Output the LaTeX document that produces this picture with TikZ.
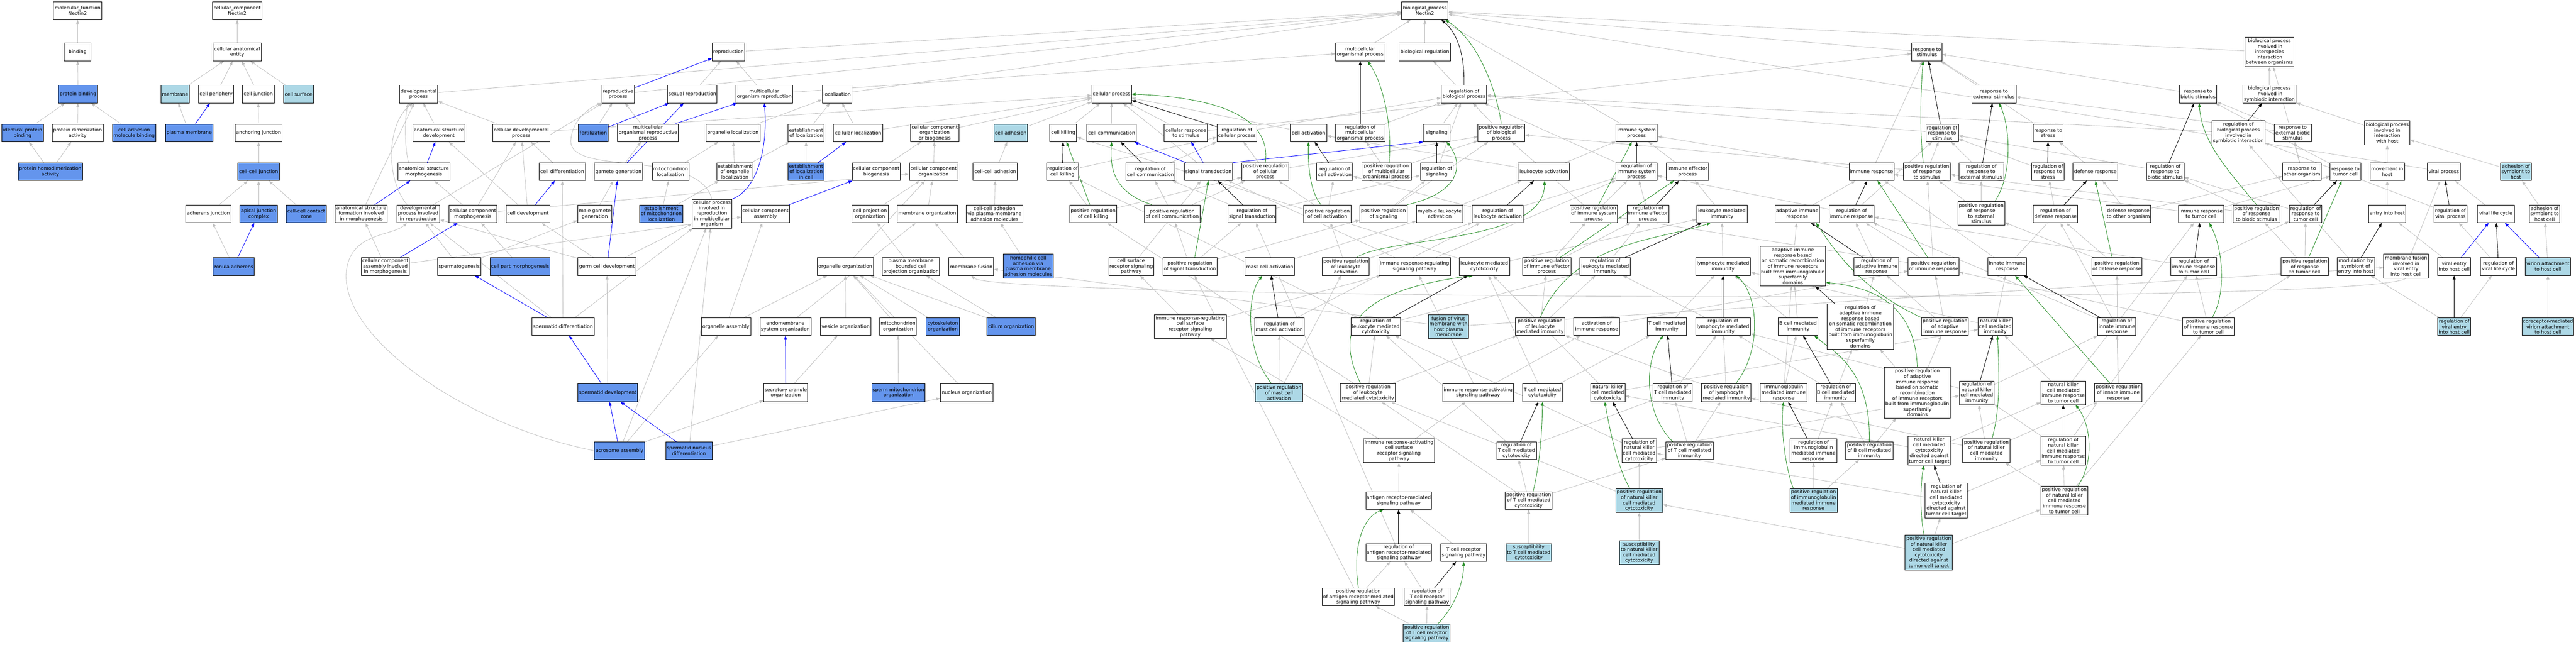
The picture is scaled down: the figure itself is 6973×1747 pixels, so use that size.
\documentclass[tikz,border=0pt]{standalone}
\usepackage{fontspec}
\setmainfont{DejaVu Sans}
\usetikzlibrary{arrows.meta}
\definecolor{cB}{HTML}{6495ED}
\definecolor{cL}{HTML}{ADD8E6}
\definecolor{gry}{HTML}{C0C0C0}
\definecolor{grn}{HTML}{228B22}
\newcommand\nf{\fontsize{13pt}{14.8pt}\selectfont}
\newcommand\gonode[7]{\node[box,fill=#6,minimum width=#4pt,minimum height=#5pt] (#1) at (#2,#3) {#7};}
\pgfdeclarelayer{bg}
\pgfsetlayers{bg,main}
\tikzset{
 box/.style={draw=black,line width=1.1pt,align=center,inner xsep=2pt,inner ysep=1pt,font=\nf},
 tip/.style={-{Triangle[length=11pt,width=8pt]}},
 ge/.style={draw=gry,line width=1.2pt,tip},
 be/.style={draw=blue,line width=1.2pt,tip},
 ke/.style={draw=black,line width=1.2pt,tip},
 gre/.style={draw=grn,line width=1.2pt,tip}
}
\begin{document}
\begin{tikzpicture}[x=1pt,y=-1pt]
\useasboundingbox (0,0) rectangle (6973,1747);
% ---- molecular function / cellular component
\gonode{mf}{210}{29}{131}{48}{white}{molecular\_function\\Nectin2}
\gonode{bind}{210}{141}{72}{48}{white}{binding}
\gonode{pb}{211}{255}{105}{48}{cB}{protein binding}
\gonode{ipb}{61}{360}{112}{48}{cB}{identical protein\\binding}
\gonode{pda}{210}{360}{138}{48}{white}{protein dimerization\\activity}
\gonode{camb}{363}{360}{118}{48}{cB}{cell adhesion\\molecule binding}
\gonode{pha}{136}{465}{174}{48}{cB}{protein homodimerization\\activity}
\gonode{cc}{642}{29}{134}{48}{white}{cellular\_component\\Nectin2}
\gonode{cae}{642}{141}{131}{48}{white}{cellular anatomical\\entity}
\gonode{mem}{474}{255}{78}{48}{cL}{membrane}
\gonode{cper}{585}{255}{94}{48}{white}{cell periphery}
\gonode{cj}{699}{255}{86}{48}{white}{cell junction}
\gonode{csurf}{808}{255}{80}{48}{cL}{cell surface}
\gonode{pm}{512}{360}{128}{48}{cB}{plasma membrane}
\gonode{aj}{700}{360}{126}{48}{white}{anchoring junction}
\gonode{ccj}{700}{465}{112}{48}{cB}{cell-cell junction}
\gonode{adj}{564}{579}{122}{48}{white}{adherens junction}
\gonode{ajc}{700}{579}{102}{48}{cB}{apical junction\\complex}
\gonode{cccz}{829}{579}{110}{48}{cB}{cell-cell contact\\zone}
\gonode{za}{632}{722}{112}{48}{cB}{zonula adherens}
% ---- development / reproduction
\gonode{dp}{1133}{255}{104}{48}{white}{developmental\\process}
\gonode{asd}{1188}{360}{142}{48}{white}{anatomical structure\\development}
\gonode{asm}{1147}{465}{141}{48}{white}{anatomical structure\\morphogenesis}
\gonode{asf}{978}{579}{141}{48}{white}{anatomical structure\\formation involved\\in morphogenesis}
\gonode{dpir}{1132}{579}{116}{48}{white}{developmental\\process involved\\in reproduction}
\gonode{ccaim}{1043}{722}{131}{48}{white}{cellular component\\assembly involved\\in morphogenesis}
\gonode{sperm}{1243}{722}{118}{48}{white}{spermatogenesis}
\gonode{repro}{1972}{141}{88}{48}{white}{reproduction}
\gonode{rp}{1673}{255}{88}{48}{white}{reproductive\\process}
\gonode{sr}{1874}{255}{134}{48}{white}{sexual reproduction}
\gonode{mor}{2069}{255}{153}{48}{white}{multicellular\\organism reproduction}
\gonode{loc}{2266}{255}{80}{48}{white}{localization}
\gonode{cdp}{1411}{360}{155}{48}{white}{cellular developmental\\process}
\gonode{fert}{1606}{360}{81}{48}{cB}{fertilization}
\gonode{morp}{1754}{360}{165}{48}{white}{multicellular\\organismal reproductive\\process}
\gonode{ol}{1984}{360}{147}{48}{white}{organelle localization}
\gonode{eol}{2182}{360}{98}{48}{white}{establishment\\of localization}
\gonode{cl}{2323}{360}{134}{48}{white}{cellular localization}
\gonode{cdiff}{1522}{465}{125}{48}{white}{cell differentiation}
\gonode{gg}{1674}{465}{130}{48}{white}{gamete generation}
\gonode{ml}{1815}{465}{99}{48}{white}{mitochondrion\\localization}
\gonode{eorl}{1989}{465}{98}{48}{white}{establishment\\of organelle\\localization}
\gonode{elc}{2182}{465}{98}{48}{cB}{establishment\\of localization\\in cell}
\gonode{ccb}{2372}{465}{131}{48}{white}{cellular component\\biogenesis}
\gonode{ccm}{1280}{579}{129}{48}{white}{cellular component\\morphogenesis}
\gonode{cdev}{1429}{579}{118}{48}{white}{cell development}
\gonode{mgg}{1610}{579}{93}{48}{white}{male gamete\\generation}
\gonode{eml}{1790}{579}{117}{48}{cB}{establishment\\of mitochondrion\\localization}
\gonode{cpir}{1927}{579}{107}{78}{white}{cellular process\\involved in\\reproduction\\in multicellular\\organism}
\gonode{cca}{2072}{579}{130}{48}{white}{cellular component\\assembly}
\gonode{cpo}{2355}{579}{99}{48}{white}{cell projection\\organization}
\gonode{cpm}{1408}{722}{162}{48}{cB}{cell part morphogenesis}
\gonode{gcd}{1643}{722}{157}{48}{white}{germ cell development}
\gonode{oo}{2288}{722}{152}{48}{white}{organelle organization}
\gonode{sdiff}{1524}{885}{168}{48}{white}{spermatid differentiation}
\gonode{oa}{1965}{885}{134}{48}{white}{organelle assembly}
\gonode{eso}{2126}{885}{138}{48}{white}{endomembrane\\system organization}
\gonode{vo}{2289}{885}{136}{48}{white}{vesicle organization}
\gonode{sdev}{1645}{1064}{162}{48}{cB}{spermatid development}
\gonode{sgo}{2127}{1064}{119}{48}{white}{secretory granule\\organization}
\gonode{aa}{1677}{1221}{137}{48}{cB}{acrosome assembly}
\gonode{snd}{1865}{1221}{126}{48}{cB}{spermatid nucleus\\differentiation}
% ---- cellular process block
\gonode{cp}{3009}{255}{107}{48}{white}{cellular process}
\gonode{ccob}{2530}{360}{131}{48}{white}{cellular component\\organization\\or biogenesis}
\gonode{cadh}{2736}{360}{91}{48}{cL}{cell adhesion}
\gonode{ck}{2878}{360}{73}{48}{white}{cell killing}
\gonode{ccom}{3009}{360}{134}{48}{white}{cell communication}
\gonode{crs}{3210}{360}{117}{48}{white}{cellular response\\to stimulus}
\gonode{rcp}{3348}{360}{108}{48}{white}{regulation of\\cellular process}
\gonode{cco}{2527}{465}{131}{48}{white}{cellular component\\organization}
\gonode{ccadh}{2694}{465}{120}{48}{white}{cell-cell adhesion}
\gonode{rck}{2876}{465}{87}{48}{white}{regulation of\\cell killing}
\gonode{rcc}{3114}{465}{132}{48}{white}{regulation of\\cell communication}
\gonode{st}{3271}{465}{130}{48}{white}{signal transduction}
\gonode{prcp}{3425}{465}{128}{48}{white}{positive regulation\\of cellular\\process}
\gonode{mo}{2510}{579}{163}{48}{white}{membrane organization}
\gonode{ccavpm}{2692}{579}{154}{48}{white}{cell-cell adhesion\\via plasma-membrane\\adhesion molecules}
\gonode{prck}{2959}{579}{127}{48}{white}{positive regulation\\of cell killing}
\gonode{prcc}{3173}{579}{150}{48}{white}{positive regulation\\of cell communication}
\gonode{rst}{3389}{579}{130}{48}{white}{regulation of\\signal transduction}
\gonode{pmbcpo}{2466}{722}{155}{48}{white}{plasma membrane\\bounded cell\\projection organization}
\gonode{mfus}{2629}{722}{121}{48}{white}{membrane fusion}
\gonode{hca}{2783}{721}{135}{65}{cB}{homophilic cell\\adhesion via\\plasma membrane\\adhesion molecules}
\gonode{csrsp}{3062}{722}{122}{48}{white}{cell surface\\receptor signaling\\pathway}
\gonode{prst}{3221}{722}{146}{48}{white}{positive regulation\\of signal transduction}
\gonode{mca}{3437}{722}{134}{48}{white}{mast cell activation}
\gonode{mito}{2431}{885}{99}{48}{white}{mitochondrion\\organization}
\gonode{cyto}{2552}{885}{90}{48}{cB}{cytoskeleton\\organization}
\gonode{cilium}{2737}{885}{131}{48}{cB}{cilium organization}
\gonode{irrcs}{3222}{885}{195}{64}{white}{immune response-regulating\\cell surface\\receptor signaling\\pathway}
\gonode{rmca}{3463}{885}{134}{48}{white}{regulation of\\mast cell activation}
\gonode{smo}{2432}{1064}{144}{48}{cB}{sperm mitochondrion\\organization}
\gonode{nuc}{2617}{1064}{142}{48}{white}{nucleus organization}
\gonode{prmca}{3462}{1064}{129}{48}{cL}{positive regulation\\of mast cell\\activation}
% ---- biological process / immune
\gonode{bp}{3857}{29}{125}{48}{white}{biological\_process\\Nectin2}
\gonode{mop}{3682}{141}{133}{48}{white}{multicellular\\organismal process}
\gonode{breg}{3857}{141}{139}{48}{white}{biological regulation}
\gonode{rbp}{3963}{255}{123}{48}{white}{regulation of\\biological process}
\gonode{ca}{3542}{360}{99}{48}{white}{cell activation}
\gonode{rmop}{3682}{360}{133}{48}{white}{regulation of\\multicellular\\organismal process}
\gonode{sig}{3889}{360}{72}{48}{white}{signaling}
\gonode{prbp}{4064}{360}{127}{48}{white}{positive regulation\\of biological\\process}
\gonode{isp}{4430}{360}{112}{48}{white}{immune system\\process}
\gonode{rca}{3613}{465}{98}{48}{white}{regulation of\\cell activation}
\gonode{prmop}{3753}{465}{134}{48}{white}{positive regulation\\of multicellular\\organismal process}
\gonode{rsig}{3889}{465}{88}{48}{white}{regulation of\\signaling}
\gonode{la}{4179}{465}{139}{48}{white}{leukocyte activation}
\gonode{risp}{4430}{465}{112}{48}{white}{regulation of\\immune system\\process}
\gonode{iep}{4568}{465}{114}{48}{white}{immune effector\\process}
\gonode{prca}{3593}{579}{127}{48}{white}{positive regulation\\of cell activation}
\gonode{prsig}{3745}{579}{128}{48}{white}{positive regulation\\of signaling}
\gonode{mla}{3897}{579}{126}{48}{white}{myeloid leukocyte\\activation}
\gonode{rla}{4054}{579}{137}{48}{white}{regulation of\\leukocyte activation}
\gonode{prisp}{4314}{579}{128}{48}{white}{positive regulation\\of immune system\\process}
\gonode{riep}{4461}{579}{114}{48}{white}{regulation of\\immune effector\\process}
\gonode{lmi}{4661}{579}{136}{48}{white}{leukocyte mediated\\immunity}
\gonode{prla}{3643}{722}{127}{48}{white}{positive regulation\\of leukocyte\\activation}
\gonode{irrsp}{3829}{722}{194}{48}{white}{immune response-regulating\\signaling pathway}
\gonode{lmc}{4018}{722}{136}{48}{white}{leukocyte mediated\\cytotoxicity}
\gonode{priep}{4187}{722}{131}{48}{white}{positive regulation\\of immune effector\\process}
\gonode{rlmi}{4345}{722}{136}{48}{white}{regulation of\\leukocyte mediated\\immunity}
\gonode{lymi}{4664}{722}{149}{48}{white}{lymphocyte mediated\\immunity}
\gonode{rlmc}{3724}{885}{135}{48}{white}{regulation of\\leukocyte mediated\\cytotoxicity}
\gonode{fvm}{3921}{885}{109}{64}{cL}{fusion of virus\\membrane with\\host plasma\\membrane}
\gonode{prlmi}{4169}{885}{134}{48}{white}{positive regulation\\of leukocyte\\mediated immunity}
\gonode{air}{4322}{885}{124}{48}{white}{activation of\\immune response}
\gonode{tcmi}{4512}{885}{106}{48}{white}{T cell mediated\\immunity}
\gonode{rlymi}{4664}{885}{149}{48}{white}{regulation of\\lymphocyte mediated\\immunity}
\gonode{prlmc}{3703}{1064}{149}{48}{white}{positive regulation\\of leukocyte\\mediated cytotoxicity}
\gonode{irasp}{4001}{1064}{192}{48}{white}{immune response-activating\\signaling pathway}
\gonode{tcmc}{4175}{1064}{107}{48}{white}{T cell mediated\\cytotoxicity}
\gonode{nkcmc}{4352}{1064}{94}{48}{white}{natural killer\\cell mediated\\cytotoxicity}
\gonode{rtcmi}{4528}{1064}{106}{48}{white}{regulation of\\T cell mediated\\immunity}
\gonode{prlymi}{4673}{1064}{134}{48}{white}{positive regulation\\of lymphocyte\\mediated immunity}
\gonode{iracs}{3787}{1221}{193}{64}{white}{immune response-activating\\cell surface\\receptor signaling\\pathway}
\gonode{rtcmc}{4105}{1221}{107}{48}{white}{regulation of\\T cell mediated\\cytotoxicity}
\gonode{rnkcmc}{4437}{1221}{93}{64}{white}{regulation of\\natural killer\\cell mediated\\cytotoxicity}
\gonode{prtcmi}{4573}{1221}{128}{48}{white}{positive regulation\\of T cell mediated\\immunity}
\gonode{arsp}{3786}{1356}{178}{48}{white}{antigen receptor-mediated\\signaling pathway}
\gonode{prtcmc}{4138}{1356}{127}{48}{white}{positive regulation\\of T cell mediated\\cytotoxicity}
\gonode{prnkcmc}{4437}{1356}{127}{63}{cL}{positive regulation\\of natural killer\\cell mediated\\cytotoxicity}
\gonode{rarsp}{3786}{1497}{178}{48}{white}{regulation of\\antigen receptor-mediated\\signaling pathway}
\gonode{tcrsp}{3962}{1497}{125}{48}{white}{T cell receptor\\signaling pathway}
\gonode{stcmc}{4138}{1497}{123}{48}{cL}{susceptibility\\to T cell mediated\\cytotoxicity}
\gonode{snkcmc}{4437}{1497}{107}{64}{cL}{susceptibility\\to natural killer\\cell mediated\\cytotoxicity}
\gonode{prarsp}{3677}{1617}{195}{48}{white}{positive regulation\\of antigen receptor-mediated\\signaling pathway}
\gonode{rtcrsp}{3863}{1617}{125}{48}{white}{regulation of\\T cell receptor\\signaling pathway}
\gonode{prtcrsp}{3862}{1715}{127}{48}{cL}{positive regulation\\of T cell receptor\\signaling pathway}
% ---- response to stimulus block
\gonode{rs}{5216}{141}{82}{48}{white}{response to\\stimulus}
\gonode{res}{5397}{255}{120}{48}{white}{response to\\external stimulus}
\gonode{rrs}{5257}{360}{88}{48}{white}{regulation of\\response to\\stimulus}
\gonode{rstress}{5544}{360}{82}{48}{white}{response to\\stress}
\gonode{ir}{5066}{465}{121}{48}{white}{immune response}
\gonode{prrs}{5216}{465}{128}{48}{white}{positive regulation\\of response\\to stimulus}
\gonode{rres}{5363}{465}{121}{48}{white}{regulation of\\response to\\external stimulus}
\gonode{rrstress}{5543}{465}{88}{48}{white}{regulation of\\response to\\stress}
\gonode{dr}{5672}{465}{121}{48}{white}{defense response}
\gonode{aird}{4865}{579}{120}{48}{white}{adaptive immune\\response}
\gonode{rir}{5012}{579}{122}{48}{white}{regulation of\\immune response}
\gonode{prres}{5363}{578}{127}{64}{white}{positive regulation\\of response\\to external\\stimulus}
\gonode{rdr}{5564}{579}{120}{48}{white}{regulation of\\defense response}
\gonode{drto}{5761}{579}{122}{48}{white}{defense response\\to other organism}
\gonode{airb}{4853}{721}{178}{108}{white}{adaptive immune\\response based\\on somatic recombination\\of immune receptors\\built from immunoglobulin\\superfamily\\domains}
\gonode{rair}{5079}{722}{121}{48}{white}{regulation of\\adaptive immune\\response}
\gonode{prir}{5234}{722}{138}{48}{white}{positive regulation\\of immune response}
\gonode{iir}{5433}{722}{104}{48}{white}{innate immune\\response}
\gonode{prdr}{5730}{722}{136}{48}{white}{positive regulation\\of defense response}
\gonode{bcmi}{4867}{885}{107}{48}{white}{B cell mediated\\immunity}
\gonode{rairb}{5036}{885}{180}{122}{white}{regulation of\\adaptive immune\\response based\\on somatic recombination\\of immune receptors\\built from immunoglobulin\\superfamily\\domains}
\gonode{prair}{5265}{885}{127}{48}{white}{positive regulation\\of adaptive\\immune response}
\gonode{nkcmi}{5401}{885}{92}{48}{white}{natural killer\\cell mediated\\immunity}
\gonode{riir}{5730}{885}{103}{48}{white}{regulation of\\innate immune\\response}
\gonode{igmir}{4828}{1064}{126}{48}{white}{immunoglobulin\\mediated immune\\response}
\gonode{rbcmi}{4969}{1064}{106}{48}{white}{regulation of\\B cell mediated\\immunity}
\gonode{prairb}{5190}{1064}{179}{137}{white}{positive regulation\\of adaptive\\immune response\\based on somatic\\recombination\\of immune receptors\\built from immunoglobulin\\superfamily\\domains}
\gonode{rnkcmi}{5351}{1064}{93}{64}{white}{regulation of\\natural killer\\cell mediated\\immunity}
\gonode{nkirtc}{5585}{1064}{121}{64}{white}{natural killer\\cell mediated\\immune response\\to tumor cell}
\gonode{priir}{5734}{1064}{128}{48}{white}{positive regulation\\of innate immune\\response}
\gonode{rigmir}{4909}{1221}{126}{64}{white}{regulation of\\immunoglobulin\\mediated immune\\response}
\gonode{prbcmi}{5060}{1221}{129}{48}{white}{positive regulation\\of B cell mediated\\immunity}
\gonode{nkctt}{5222}{1221}{114}{78}{white}{natural killer\\cell mediated\\cytotoxicity\\directed against\\tumor cell target}
\gonode{prnkcmi}{5377}{1221}{128}{64}{white}{positive regulation\\of natural killer\\cell mediated\\immunity}
\gonode{rnkirtc}{5585}{1221}{121}{78}{white}{regulation of\\natural killer\\cell mediated\\immune response\\to tumor cell}
\gonode{prigmir}{4909}{1356}{128}{64}{cL}{positive regulation\\of immunoglobulin\\mediated immune\\response}
\gonode{rnkctt}{5268}{1356}{113}{94}{white}{regulation of\\natural killer\\cell mediated\\cytotoxicity\\directed against\\tumor cell target}
\gonode{prnkirtc}{5588}{1356}{128}{79}{white}{positive regulation\\of natural killer\\cell mediated\\immune response\\to tumor cell}
\gonode{prnkctt}{5221}{1497}{128}{95}{cL}{positive regulation\\of natural killer\\cell mediated\\cytotoxicity\\directed against\\tumor cell target}
% ---- interspecies / viral block
\gonode{bpiiibo}{6143}{141}{133}{79}{white}{biological process\\involved in\\interspecies\\interaction\\between organisms}
\gonode{rbs}{5950}{255}{101}{48}{white}{response to\\biotic stimulus}
\gonode{bpisi}{6143}{255}{144}{48}{white}{biological process\\involved in\\symbiotic interaction}
\gonode{rbpisi}{6059}{360}{143}{65}{white}{regulation of\\biological process\\involved in\\symbiotic interaction}
\gonode{rebs}{6206}{360}{100}{48}{white}{response to\\external biotic\\stimulus}
\gonode{bpiiwh}{6462}{360}{123}{65}{white}{biological process\\involved in\\interaction\\with host}
\gonode{rrbs}{5861}{465}{102}{48}{white}{regulation of\\response to\\biotic stimulus}
\gonode{rto}{6231}{465}{104}{48}{white}{response to\\other organism}
\gonode{rtc}{6349}{465}{83}{48}{white}{response to\\tumor cell}
\gonode{mih}{6462}{465}{93}{48}{white}{movement in\\host}
\gonode{vp}{6615}{465}{89}{48}{white}{viral process}
\gonode{asth}{6810}{465}{83}{48}{cL}{adhesion of\\symbiont to\\host}
\gonode{irtc}{5958}{579}{122}{48}{white}{immune response\\to tumor cell}
\gonode{prrbs}{6108}{579}{128}{48}{white}{positive regulation\\of response\\to biotic stimulus}
\gonode{rrtc}{6241}{579}{88}{48}{white}{regulation of\\response to\\tumor cell}
\gonode{eih}{6462}{579}{101}{48}{white}{entry into host}
\gonode{rvp}{6633}{579}{89}{48}{white}{regulation of\\viral process}
\gonode{vlc}{6756}{579}{100}{48}{white}{viral life cycle}
\gonode{asthc}{6888}{579}{83}{48}{white}{adhesion of\\symbiont to\\host cell}
\gonode{rirtc}{5938}{722}{124}{48}{white}{regulation of\\immune response\\to tumor cell}
\gonode{prrtc}{6239}{722}{128}{48}{white}{positive regulation\\of response\\to tumor cell}
\gonode{mbse}{6377}{722}{101}{48}{white}{modulation by\\symbiont of\\entry into host}
\gonode{mfve}{6513}{721}{121}{65}{white}{membrane fusion\\involved in\\viral entry\\into host cell}
\gonode{veh}{6643}{722}{89}{48}{white}{viral entry\\into host cell}
\gonode{rvlc}{6763}{722}{98}{48}{white}{regulation of\\viral life cycle}
\gonode{vahc}{6897}{722}{122}{48}{cL}{virion attachment\\to host cell}
\gonode{prirtc}{5978}{885}{140}{48}{white}{positive regulation\\of immune response\\to tumor cell}
\gonode{rveh}{6643}{885}{89}{48}{cL}{regulation of\\viral entry\\into host cell}
\gonode{cmva}{6897}{885}{140}{48}{cL}{coreceptor-mediated\\virion attachment\\to host cell}

\begin{pgfonlayer}{bg}
% grey edges
\foreach \a/\b in {bind/mf,pb/bind,ipb/pb,pda/pb,camb/pb,pha/ipb,pha/pda,
 cae/cc,mem/cae,cper/cae,cj/cae,csurf/cae,pm/mem,aj/cj,ccj/aj,adj/ccj,ajc/ccj,cccz/ccj,za/adj,
 dp/bp,asd/dp,asf/dp,ccaim/asf,ccaim/cca,sperm/dpir,sperm/mgg,dpir/rp,
 repro/bp,rp/bp,sr/repro,mor/repro,mor/mop,loc/bp,cdp/dp,cdp/cp,fert/rp,morp/rp,ol/loc,eol/loc,cl/loc,cl/cp,cdiff/cdp,gg/morp,ml/ol,eorl/ol,eorl/eol,elc/eol,ccb/ccob,ccm/asm,ccm/cdp,ccm/cco,cdev/asd,cdev/cdp,mgg/gg,eml/ml,eml/eorl,cpm/ccm,gcd/cdev,gcd/cpir,gcd/dpir,oo/cco,sdiff/cdiff,sdiff/cpir,sdiff/dpir,oa/cca,oa/oo,eso/mo,vo/oo,sdev/gcd,sgo/vo,aa/sgo,aa/oa,aa/cpir,snd/cpir,snd/nuc,
 cpo/cco,pmbcpo/cpo,mo/cco,mfus/mo,ccadh/cadh,ccavpm/ccadh,hca/ccavpm,mito/oo,cyto/oo,cilium/oo,cilium/pmbcpo,smo/mito,nuc/oo,cco/ccob,ccob/cp,cadh/cp,ck/cp,ccom/cp,crs/cp,crs/rs,rcp/rbp,prcp/rcp,prcp/prbp,st/cp,rck/rcp,prck/rck,prck/prcp,rcc/rcp,prcc/rcc,prcc/prcp,rst/rcc,rst/rsig,prst/rst,prst/prcc,prst/prsig,csrsp/st,irrcs/csrsp,irrcs/irrsp,rmca/rla,prmca/rmca,prmca/prla,mca/mla,
 mop/bp,breg/bp,rbp/breg,prbp/rbp,ca/cp,rmop/rbp,sig/rbp,rsig/rbp,isp/bp,risp/rbp,prmop/rmop,prmop/prbp,la/ca,la/isp,iep/isp,prca/rca,prca/prcp,prsig/rsig,prsig/prbp,mla/la,rla/rca,rla/risp,prisp/risp,prisp/prbp,riep/risp,lmi/iep,prla/rla,prla/prca,irrsp/st,irrsp/risp,lmc/ck,lmc/lmi,priep/riep,priep/prisp,rlmi/riep,lymi/lmi,rlmc/rck,rlmc/rlmi,fvm/mfus,fvm/mfve,prlmi/rlmi,prlmi/priep,air/prir,tcmi/lymi,rlymi/rlmi,prlmc/rlmc,prlmc/prlmi,prlmc/prck,irasp/air,irasp/irrsp,tcmc/lmc,tcmc/tcmi,nkcmc/lmc,nkcmc/nkcmi,rtcmi/rlymi,prlymi/rlymi,prlymi/prlmi,iracs/irasp,iracs/irrcs,rtcmc/rtcmi,rtcmc/rlmc,rnkcmc/rlmc,rnkcmc/rnkcmi,prtcmi/rtcmi,prtcmi/prlymi,arsp/iracs,prtcmc/rtcmc,prtcmc/prtcmi,prtcmc/prlmc,prnkcmc/rnkcmc,prnkcmc/prlmc,rarsp/rst,tcrsp/arsp,stcmc/prtcmc,snkcmc/prnkcmc,prarsp/rarsp,prarsp/prst,rtcrsp/rarsp,prtcrsp/rtcrsp,prtcrsp/prarsp,
 rs/bp,res/rs,rrs/rbp,rstress/rs,ir/rs,ir/isp,prrs/rrs,prrs/prbp,rres/rrs,rrstress/rrs,dr/rstress,aird/ir,rir/rrs,rir/risp,prres/rres,prres/prrs,drto/dr,drto/rto,airb/aird,rair/rir,prir/rir,prir/prrs,prir/prisp,iir/ir,iir/dr,prdr/rdr,prdr/prres,rdr/rrstress,
 bcmi/lymi,bcmi/airb,rairb/rair,prair/rair,prair/prir,nkcmi/lymi,nkcmi/iir,riir/rir,riir/rdr,igmir/bcmi,igmir/airb,rbcmi/rairb,rbcmi/rlymi,prairb/rairb,prairb/prair,rnkcmi/rlymi,rnkcmi/riir,nkirtc/nkcmi,nkirtc/irtc,priir/riir,priir/prdr,rigmir/rbcmi,prbcmi/rbcmi,prbcmi/prairb,nkctt/nkcmc,nkctt/nkirtc,prnkcmi/rnkcmi,prnkcmi/prlymi,prnkcmi/priir,rnkirtc/rnkcmi,rnkirtc/rirtc,prigmir/rigmir,prigmir/prbcmi,rnkctt/rnkcmc,rnkctt/rnkirtc,prnkirtc/rnkirtc,prnkirtc/prnkcmi,prnkirtc/prirtc,prnkctt/rnkctt,prnkctt/prnkirtc,prnkctt/prnkcmc,
 bpiiibo/bp,rbs/rs,bpisi/bpiiibo,rbpisi/rbp,rebs/rbs,rebs/res,bpiiwh/bpisi,rrbs/rrs,rto/rebs,rto/bpiiibo,rtc/rbs,mih/bpiiwh,vp/bp,asth/bpiiwh,irtc/rtc,irtc/ir,prrbs/rrbs,prrbs/prrs,rrtc/rrbs,eih/mih,rvp/rbpisi,vlc/vp,asthc/asth,rirtc/rrtc,rirtc/rir,prrtc/rrtc,prrtc/prrbs,mbse/rbpisi,mfve/vp,veh/eih,rvlc/rvp,vahc/asthc,prirtc/rirtc,prirtc/prrtc,prirtc/prir,rveh/rvlc,rveh/mbse,cmva/vahc}
 {\draw[ge] (\a) -- (\b);}
\draw[ge] ([xshift=30]asm.north west) .. controls (1095,400) and (1095,320) .. ([xshift=25]dp.south west);
\draw[ge] ([xshift=-30]dpir.north) .. controls (1040,480) and (1050,330) .. ([xshift=-15]dp.south);
\draw[ge] (aa.west) .. controls (1250,1150) and (900,900) .. (940,720) .. controls (960,630) and (1060,640) .. ([xshift=-30]dpir.south);
\draw[ge] (cpir.north) .. controls (1890,400) and (1540,480) .. (1545,380) .. controls (1550,320) and (1600,290) .. (rp.south west);
\draw[ge] (mfve.south) .. controls (6400,830) and (2700,810) .. (mfus.south);
% blue edges
\foreach \a/\b in {pm/cper,za/ajc,asm/asd,asf/asm,ccaim/ccm,rp/repro,fert/sr,morp/mor,gg/sr,elc/cl,cca/ccb,cdev/cdiff,gcd/gg,sdiff/sperm,sdev/sdiff,sgo/eso,aa/sdev,snd/sdev,st/ccom,st/crs,veh/vlc,vahc/vlc}
 {\draw[be] (\a) -- (\b);}
\draw[be] (cpir.north east) .. controls (2040,520) and (2080,420) .. (mor.south);
\draw[be] (st.north east) -- (sig.south west);
% black edges
\foreach \a/\b in {rcp/cp,rck/ck,rcc/ccom,rst/st,rmca/mca,rmop/mop,rca/ca,rsig/sig,rla/la,risp/isp,riep/iep,rlmi/lmi,rlmc/lmc,rlymi/lymi,rtcmi/tcmi,rtcmc/tcmc,rnkcmc/nkcmc,rarsp/arsp,rtcrsp/tcrsp,rrs/rs,rres/res,rrstress/rstress,rir/ir,rdr/dr,rair/aird,rairb/airb,riir/iir,rbcmi/bcmi,rnkcmi/nkcmi,rigmir/igmir,rnkirtc/nkirtc,rnkctt/nkctt,rbpisi/bpisi,rrbs/rbs,rrtc/rtc,rvp/vp,rirtc/irtc,mbse/eih,rvlc/vlc,rveh/veh}
 {\draw[ke] (\a) -- (\b);}
\draw[ke] (rbp.north) .. controls (3965,150) and (3945,90) .. ([xshift=-18]bp.south east);
% green edges
\foreach \a/\b in {prck/ck,prisp/isp,priep/iep,prir/ir,priir/iir,prrtc/rtc}
 {\draw[gre] (\a) -- (\b);}
\draw[gre] (prbp.north) .. controls (4050,240) and (4000,110) .. ([xshift=-8]bp.south east);
\draw[gre] (prcp.north) .. controls (3445,300) and (3250,262) .. (cp.east);
\draw[gre] ([xshift=7]prmop.north) .. controls (3770,330) and (3740,220) .. ([xshift=20]mop.south);
\draw[gre] (prsig.north east) .. controls (3960,520) and (3960,440) .. ([xshift=-10]sig.south east);
\draw[gre] ([xshift=-17]prca.north) .. controls (3545,520) and (3540,440) .. (ca.south);
\draw[gre] ([xshift=29]prla.north) .. controls (3760,640) and (4180,660) .. ([xshift=2]la.south);
\draw[gre] (prlmi.north) .. controls (4260,650) and (4500,650) .. ([xshift=-30]lmi.south);
\draw[gre] ([xshift=-20]prlmc.north) .. controls (3615,900) and (3650,790) .. ([xshift=-30]lmc.south);
\draw[gre] ([xshift=25]prlymi.north) .. controls (4770,950) and (4760,800) .. ([xshift=35]lymi.south);
\draw[gre] ([xshift=-45]prtcmi.north) .. controls (4450,1120) and (4450,980) .. ([xshift=-10]tcmi.south);
\draw[gre] ([xshift=12]prtcmc.north) .. controls (4170,1250) and (4175,1150) .. (tcmc.south);
\draw[gre] ([xshift=-25]prnkcmc.north) .. controls (4375,1260) and (4355,1150) .. ([xshift=-8]nkcmc.south);
\draw[gre] (prarsp.north) .. controls (3660,1480) and (3690,1400) .. ([xshift=-40]arsp.south);
\draw[gre] ([xshift=30]prtcrsp.north) .. controls (3950,1630) and (3962,1560) .. (tcrsp.south);
\draw[gre] ([xshift=-10]prrs.north) .. controls (5195,350) and (5200,230) .. ([xshift=-10]rs.south);
\draw[gre] ([xshift=37]prres.north) .. controls (5450,470) and (5440,340) .. ([xshift=14]res.south);
\draw[gre] (prair.north west) .. controls (5050,790) and (4980,700) .. ([xshift=-10]aird.south east);
\draw[gre] (prairb.north) .. controls (5185,850) and (5100,780) .. ([yshift=10]airb.south east);
\draw[gre] (prbcmi.north) .. controls (5065,1000) and (4960,950) .. ([xshift=-10]bcmi.south east);
\draw[gre] ([xshift=15]prnkcmi.north) .. controls (5418,1100) and (5410,980) .. ([xshift=6]nkcmi.south);
\draw[gre] ([xshift=10]prigmir.north west) .. controls (4830,1260) and (4820,1150) .. (igmir.south);
\draw[gre] ([xshift=37]prnkirtc.north) .. controls (5670,1250) and (5660,1150) .. ([xshift=33]nkirtc.south);
\draw[gre] ([xshift=-13]prnkctt.north) .. controls (5195,1380) and (5200,1300) .. ([xshift=-14]nkctt.south);
\draw[gre] (prrbs.north) .. controls (6020,450) and (5960,380) .. ([xshift=3]rbs.south);
\draw[gre] ([xshift=10]prirtc.north) .. controls (6025,800) and (6020,680) .. ([xshift=22]irtc.south);
\draw[gre] ([xshift=-55]prcc.north) .. controls (3010,520) and (3005,450) .. (ccom.south);
\draw[gre] ([xshift=13]prst.north) -- (st.south);
\draw[gre] ([xshift=-20]prmca.north) .. controls (3370,950) and (3375,800) .. ([xshift=-20]mca.south);
\draw[gre] ([xshift=-13]prdr.north) -- (dr.south);
\end{pgfonlayer}
\end{tikzpicture}
\end{document}
